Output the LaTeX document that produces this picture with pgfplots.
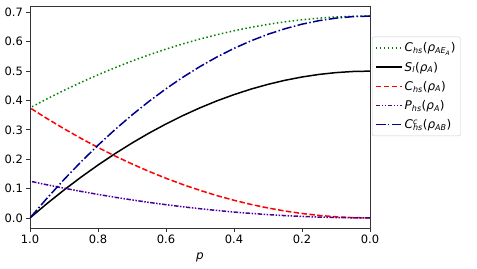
\documentclass[border=0pt]{standalone}
\usepackage{fontspec}
\setmainfont{DejaVu Sans}
\usepackage{pgfplots}
\pgfplotsset{compat=1.18}
\usetikzlibrary{calc}
\definecolor{mgreen}{rgb}{0,0.5,0}
\definecolor{mred}{rgb}{1,0,0}
\definecolor{mpurple}{rgb}{0.29,0,0.6}
\definecolor{mblue}{rgb}{0,0,0.55}
\newcommand{\itx}[1]{\textit{#1}}
\begin{document}
\begin{tikzpicture}
\begin{axis}[
  name=ax,
  scale only axis,
  width=340pt, height=222pt,
  xmin=0, xmax=1, x dir=reverse,
  ymin=-0.0344, ymax=0.7219,
  xtick={0,0.2,0.4,0.6,0.8,1.0},
  ytick={0,0.1,0.2,0.3,0.4,0.5,0.6,0.7},
  xticklabel style={/pgf/number format/.cd,fixed,fixed zerofill,precision=1},
  yticklabel style={/pgf/number format/.cd,fixed,fixed zerofill,precision=1},
  /pgf/number format/assume math mode=true,
  tick label style={font=\fontsize{11.5}{13}\selectfont},
  tick align=outside, major tick length=3.5pt,
  xtick pos=bottom, ytick pos=left,
  axis line style={black!80, line width=0.8pt},
  every tick/.style={black!80, line width=0.8pt},
  xlabel={\itx{p}}, xlabel style={font=\fontsize{12}{14}\selectfont, yshift=-2pt},
  legend style={at={(rel axis cs:1.006,0.862)}, anchor=north west,
    draw=black!20, rounded corners=2pt, fill=white,
    font=\fontsize{12}{14}\selectfont, row sep=4.5pt,
    inner xsep=3pt, inner ysep=4pt},
  legend cell align=left,
  every axis plot/.append style={line width=1.5pt,
    legend image code/.code={\draw[##1, line width=1.5pt] (0pt,0pt) -- (26pt,0pt);}},
  clip=true,
]
\addplot[mgreen, dash pattern=on 1.5pt off 2.5pt] coordinates {
(0,.6875)(.05,.6867)(.1,.6844)(.15,.6805)(.2,.675)(.25,.668)(.3,.6594)(.35,.6492)(.4,.6375)(.45,.6242)(.5,.6094)(.55,.593)(.6,.575)(.65,.5555)(.7,.5344)(.75,.5117)(.8,.4875)(.85,.4617)(.9,.4344)(.95,.4055)(1,.375)};
\addlegendentry{\itx{C}\textsubscript{\itx{hs}}(\itx{ρ}\textsubscript{\itx{AE}\textsubscript{\itx{A}}})}
\addplot[black, solid] coordinates {
(0,.5)(.05,.4988)(.1,.495)(.15,.4888)(.2,.48)(.25,.4688)(.3,.455)(.35,.4388)(.4,.42)(.45,.3988)(.5,.375)(.55,.3488)(.6,.32)(.65,.2888)(.7,.255)(.75,.2188)(.8,.18)(.85,.1388)(.9,.095)(.95,.0488)(1,0)};
\addlegendentry{\itx{S}\textsubscript{\itx{l}}(\itx{ρ}\textsubscript{\itx{A}})}
\addplot[mred, dash pattern=on 5.5pt off 2.4pt] coordinates {
(0,0)(.05,.0009)(.1,.0038)(.15,.0084)(.2,.015)(.25,.0234)(.3,.0338)(.35,.0459)(.4,.06)(.45,.0759)(.5,.0938)(.55,.1134)(.6,.135)(.65,.1584)(.7,.1838)(.75,.2109)(.8,.24)(.85,.2709)(.9,.3038)(.95,.3384)(1,.375)};
\addlegendentry{\itx{C}\textsubscript{\itx{hs}}(\itx{ρ}\textsubscript{\itx{A}})}
\addplot[mpurple, dash pattern=on 4.5pt off 1.5pt on 1.5pt off 1.5pt on 1.5pt off 1.5pt] coordinates {
(0,0)(.05,.0003)(.1,.0013)(.15,.0028)(.2,.005)(.25,.0078)(.3,.0113)(.35,.0153)(.4,.02)(.45,.0253)(.5,.0313)(.55,.0378)(.6,.045)(.65,.0528)(.7,.0613)(.75,.0703)(.8,.08)(.85,.0903)(.9,.1013)(.95,.1128)(1,.125)};
\addlegendentry{\itx{P}\textsubscript{\itx{hs}}(\itx{ρ}\textsubscript{\itx{A}})}
\addplot[mblue, dash pattern=on 9.6pt off 2.4pt on 1.5pt off 2.4pt] coordinates {
(0,.6875)(.05,.6858)(.1,.6806)(.15,.672)(.2,.66)(.25,.6445)(.3,.6256)(.35,.6033)(.4,.5775)(.45,.5483)(.5,.5156)(.55,.4795)(.6,.44)(.65,.397)(.7,.3506)(.75,.3008)(.8,.2475)(.85,.1908)(.9,.1306)(.95,.067)(1,0)};
\addlegendentry{\itx{C}\rlap{\textsuperscript{\itx{c}}}\textsubscript{\itx{hs}}(\itx{ρ}\textsubscript{\itx{AB}})}
\end{axis}
\path ($(ax.south west)+(-30pt,-40pt)$) rectangle ($(ax.north east)+(107pt,6pt)$);
\end{tikzpicture}
\end{document}
